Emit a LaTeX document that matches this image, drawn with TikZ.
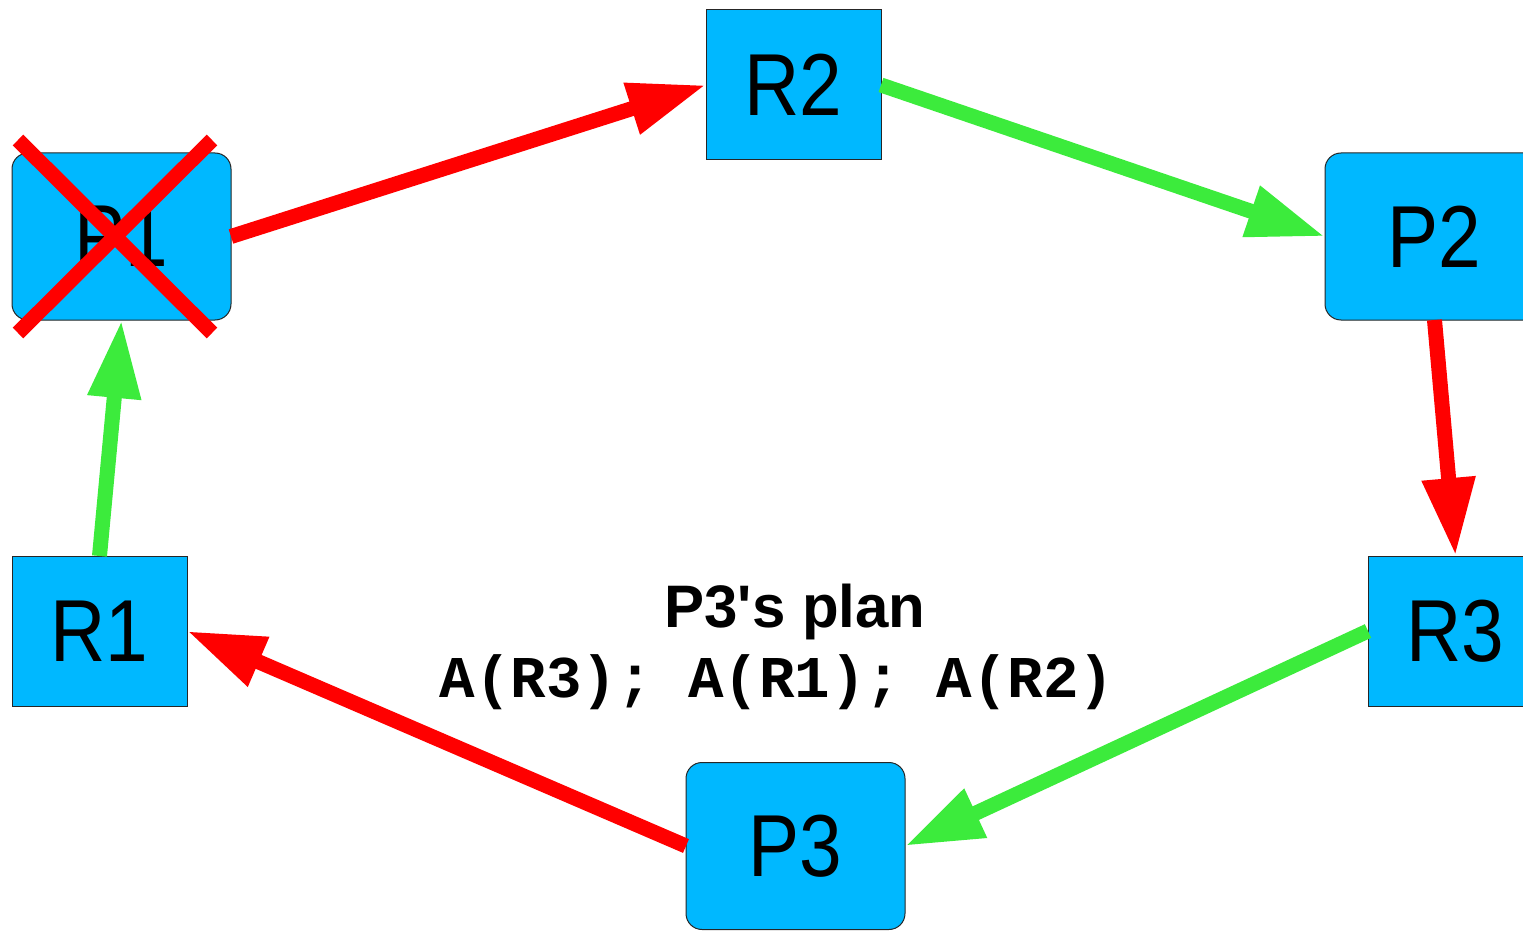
\documentclass[tikz,border=0pt]{standalone}
\usepackage{fontspec}
\setmainfont{Liberation Sans}
\setmonofont{Liberation Mono}
\newfontfamily\boxfont[FakeStretch=0.87]{Liberation Sans}
\newfontfamily\planfont{Liberation Sans}
\usetikzlibrary{arrows.meta}
\definecolor{procBlue}{RGB}{0,184,255}
\definecolor{heldGreen}{RGB}{60,235,60}
\definecolor{wantRed}{RGB}{255,0,0}
\tikzset{
  x=0.5pt, y=-0.5pt,
  res/.style={draw=black!85, line width=0.5pt, fill=procBlue, inner sep=0pt, outer sep=0pt,
    minimum width=87.5pt, minimum height=75pt, font=\boxfont\fontsize{44}{44}\selectfont},
  proc/.style={res, rounded corners=8pt, minimum width=109.5pt, minimum height=83.5pt},
  held/.style={draw=heldGreen, line width=7.5pt, -{Triangle[length=39pt,width=25pt]}},
  want/.style={held, draw=wantRed},
  cross/.style={draw=wantRed, line width=7.5pt}
}

\begin{document}
\begin{tikzpicture}
  \clip (0,0) rectangle (1523,931);
  \useasboundingbox (0,0) rectangle (1523,931);

  \node[res]  (r2) at (793.5,85)   {R2};
  \node[proc] (p1) at (121.5,236.5) {P1};
  \node[proc] (p2) at (1434.5,236.5) {P2};
  \node[res]  (r1) at (99.5,631)   {R1};
  \node[res]  (r3) at (1455.5,631) {R3};
  \node[proc] (p3) at (795.5,846)  {P3};

  \node[anchor=base, font=\planfont\bfseries\fontsize{30}{30}\selectfont] (plan) at (795,627) {P3's plan};
  \node[anchor=base, font=\ttfamily\bfseries\fontsize{29.6}{30}\selectfont] (plancode) at (777,697) {A(R3); A(R1); A(R2)};

  \draw[want] (p1.east) -- (r2.west);
  \draw[held] (r2.east) -- (p2.west);
  \draw[want] (p2.south) -- (r3.north);
  \draw[held] (r3.west) -- (p3.east);
  \draw[want] (p3.west) -- (r1.east);
  \draw[held] (r1.north) -- (p1.south);

  % P1 is gone
  \draw[cross] ([shift={(6,-13)}]p1.north west) -- ([shift={(-19,13)}]p1.south east);
  \draw[cross] ([shift={(-19,-13)}]p1.north east) -- ([shift={(6,13)}]p1.south west);
\end{tikzpicture}
\end{document}
